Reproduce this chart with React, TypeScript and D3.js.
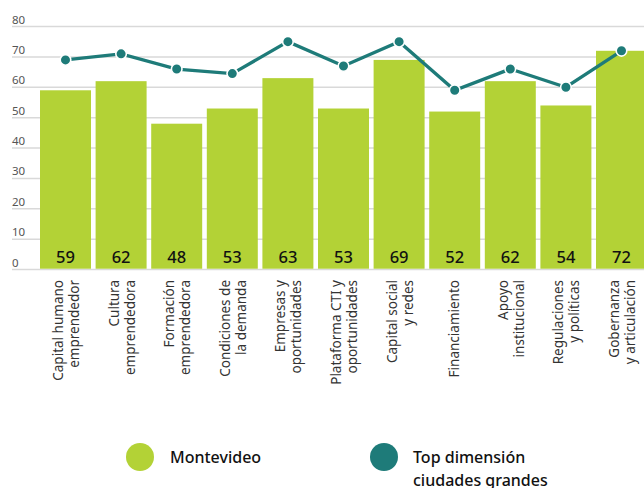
import React, { useRef, useEffect } from 'react';
import * as d3 from 'd3';

// Dimension names (two lines each, as they appear under the bars)
const categories: string[][] = [
  ['Capital humano', 'emprendedor'],
  ['Cultura', 'emprendedora'],
  ['Formación', 'emprendedora'],
  ['Condiciones de', 'la demanda'],
  ['Empresas y', 'oportunidades'],
  ['Plataforma CTI y', 'oportunidades'],
  ['Capital social', 'y redes'],
  ['Financiamiento'],
  ['Apoyo', 'institucional'],
  ['Regulaciones', 'y políticas'],
  ['Gobernanza', 'y articulación'],
];

const montevideo = [59, 62, 48, 53, 63, 53, 69, 52, 62, 54, 72];
const topCiudades = [69, 71, 66, 64.5, 75, 67, 75, 59, 66, 60, 72];
const yTicks = [0, 10, 20, 30, 40, 50, 60, 70, 80];

const GREEN = '#b3d236';
const TEAL = '#1e7b79';
const FONT = '"Noto Sans", sans-serif';

const App: React.FC = () => {
  const svgRef = useRef<SVGSVGElement>(null);

  useEffect(() => {
    if (!svgRef.current) return;
    const width = 644;
    const height = 488;

    const svg = d3.select(svgRef.current);
    svg.selectAll('*').remove();

    const x = d3.scaleBand<number>()
      .domain(d3.range(categories.length))
      .range([37.7, 649.3])
      .paddingInner(0.083)
      .paddingOuter(0.0415);

    const y = d3.scaleLinear().domain([0, 80]).range([269.5, 26.5]);

    // Grid lines + tick labels
    const grid = svg.append('g');
    yTicks.forEach(t => {
      grid.append('line')
        .attr('x1', 12)
        .attr('x2', width)
        .attr('y1', y(t))
        .attr('y2', y(t))
        .attr('stroke', '#d9d9d9')
        .attr('stroke-width', 1.5);
      grid.append('text')
        .attr('x', 12)
        .attr('y', y(t) - 3)
        .attr('font-family', FONT)
        .attr('font-size', '11.5px')
        .attr('fill', '#555')
        .text(t);
    });

    // Bars
    svg.append('g')
      .selectAll('rect')
      .data(montevideo)
      .join('rect')
      .attr('x', (_, i) => x(i)!)
      .attr('y', d => y(d))
      .attr('width', x.bandwidth())
      .attr('height', d => y(0) - y(d) - 0.8)
      .attr('fill', GREEN);

    // Values in bars
    svg.append('g')
      .selectAll('text')
      .data(montevideo)
      .join('text')
      .attr('x', (_, i) => x(i)! + x.bandwidth() / 2)
      .attr('y', 263)
      .attr('text-anchor', 'middle')
      .attr('font-family', FONT)
      .attr('font-size', '16.5px')
      .attr('font-weight', 500)
      .attr('fill', '#111')
      .text(d => d);

    // Line for top cities
    const line = d3.line<number>()
      .x((_, i) => x(i)! + x.bandwidth() / 2)
      .y(d => y(d));

    svg.append('path')
      .datum(topCiudades)
      .attr('fill', 'none')
      .attr('stroke', TEAL)
      .attr('stroke-width', 3.3)
      .attr('d', line);

    svg.append('g')
      .selectAll('circle')
      .data(topCiudades)
      .join('circle')
      .attr('cx', (_, i) => x(i)! + x.bandwidth() / 2)
      .attr('cy', d => y(d))
      .attr('r', 5.3)
      .attr('fill', TEAL)
      .attr('stroke', '#fff')
      .attr('stroke-width', 1.6);

    // Category labels, rotated
    const labels = svg.append('g');
    categories.forEach((lines, i) => {
      const cx = x(i)! + x.bandwidth() / 2;
      const t = labels.append('text')
        .attr('transform', `translate(${cx},280) rotate(-90)`)
        .attr('text-anchor', 'end')
        .attr('font-family', FONT)
        .attr('font-size', '13.5px')
        .attr('fill', '#333');
      const offs = lines.length === 1 ? [4.5] : [-2.5, 13.5];
      lines.forEach((s, j) => {
        t.append('tspan')
          .attr('x', 0)
          .attr('y', offs[j])
          .text(s);
      });
    });

    // Legend
    const legend = svg.append('g').attr('font-family', FONT).attr('font-size', '16px').attr('font-weight', 500).attr('fill', '#111');
    legend.append('circle').attr('cx', 140).attr('cy', 457).attr('r', 14).attr('fill', GREEN);
    legend.append('text').attr('x', 170).attr('y', 463).text('Montevideo');
    legend.append('circle').attr('cx', 384).attr('cy', 457).attr('r', 14).attr('fill', TEAL);
    const lt = legend.append('text');
    lt.append('tspan').attr('x', 413).attr('y', 463).text('Top dimensión');
    lt.append('tspan').attr('x', 413).attr('y', 486).text('ciudades grandes');

    svg.attr('width', width).attr('height', height);
  }, []);

  return (
    <svg
      ref={svgRef}
      width={644}
      height={488}
      style={{ position: 'absolute', left: 0, top: 0, background: '#fff' }}
    />
  );
};

export default App;
